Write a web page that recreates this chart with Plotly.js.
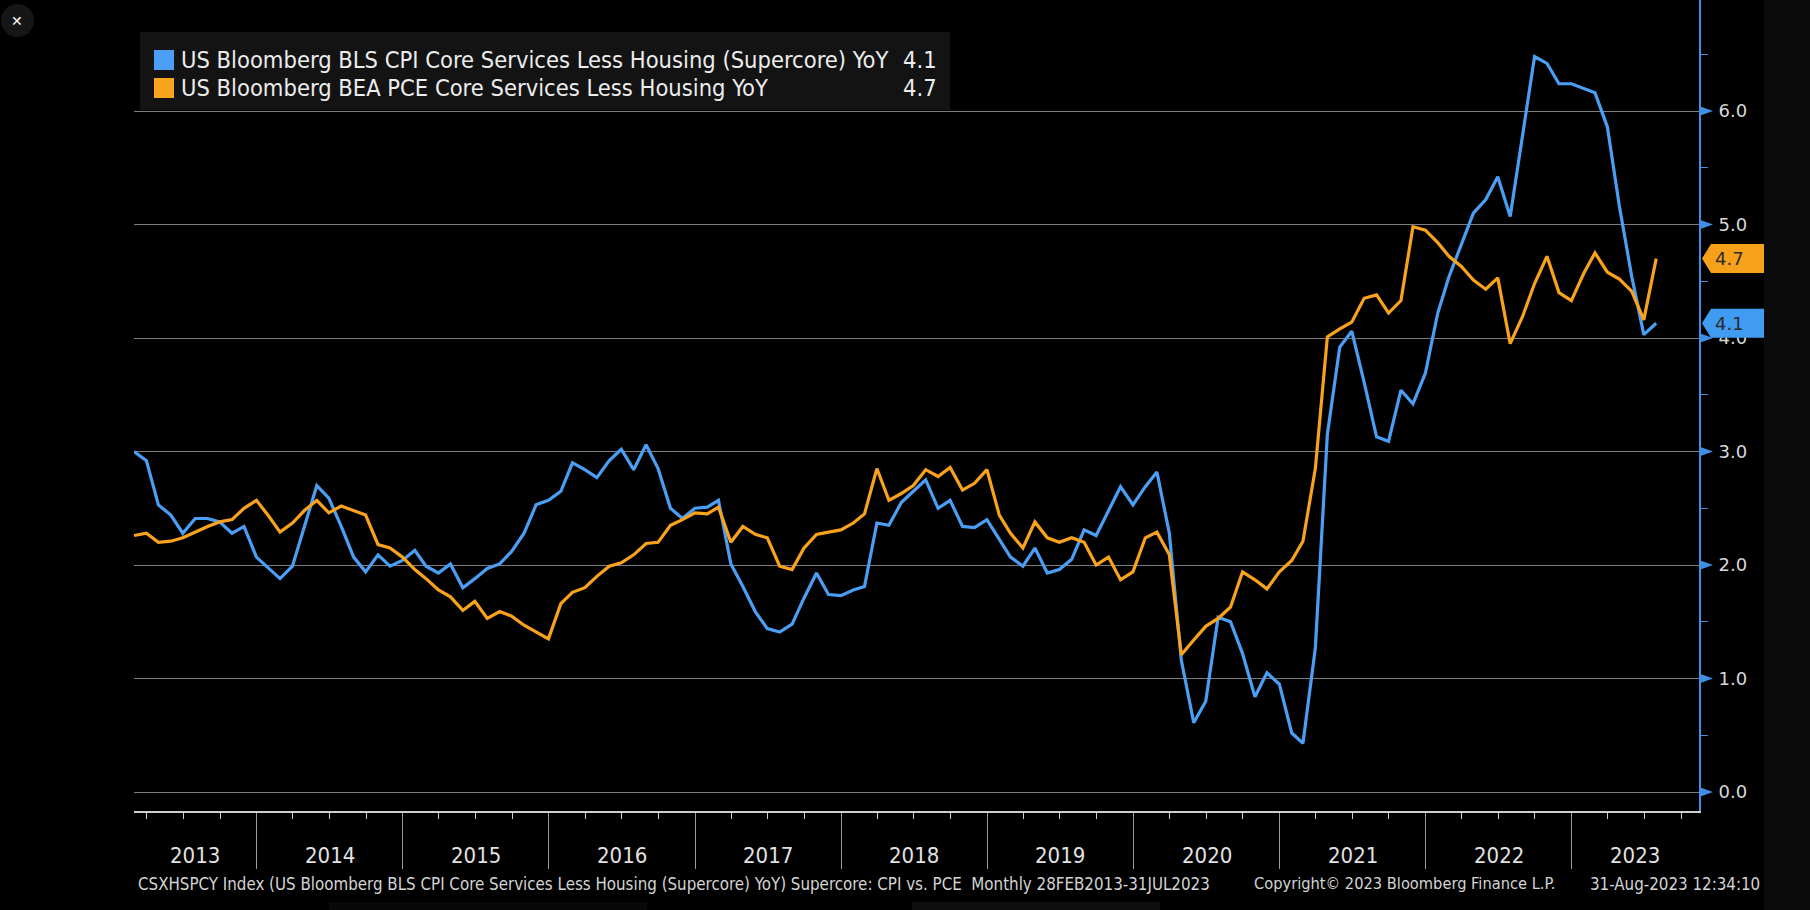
<!DOCTYPE html>
<html><head><meta charset="utf-8">
<script src="https://cdn.plot.ly/plotly-3.0.1.min.js"></script>
<style>html,body{margin:0;padding:0;background:#000;overflow:hidden}</style>
</head><body><div id="chart" style="width:1810px;height:910px"></div>
<script>
// ---------------- DATA ----------------
const firstMonth = [2013, 2]; // Feb 2013, monthly month-end observations
const cpiSupercore = [
 3.00,2.92,2.53,2.44,2.28,2.41,2.41,2.38,2.28,2.34,2.07,
 1.97,1.88,1.99,2.34,2.70,2.59,2.34,2.07,1.94,2.09,1.99,2.04,
 2.13,1.99,1.93,2.01,1.80,1.88,1.97,2.01,2.12,2.28,2.53,2.57,
 2.65,2.90,2.84,2.77,2.92,3.02,2.84,3.06,2.85,2.50,2.41,2.50,
 2.51,2.57,2.01,1.81,1.59,1.44,1.41,1.48,1.71,1.93,1.74,1.73,
 1.78,1.81,2.37,2.35,2.55,2.65,2.75,2.50,2.57,2.34,2.33,2.40,
 2.22,2.07,1.99,2.15,1.93,1.96,2.05,2.31,2.26,2.48,2.69,2.53,
 2.69,2.82,2.28,1.16,0.61,0.80,1.54,1.50,1.22,0.84,1.05,0.95,
 0.52,0.43,1.27,3.15,3.92,4.06,3.61,3.13,3.09,3.54,3.42,3.69,
 4.22,4.54,4.83,5.10,5.22,5.42,5.07,5.77,6.48,6.42,6.24,6.24,
 6.20,6.16,5.86,5.16,4.54,4.03,4.13
];
const pceSupercore = [
 2.26,2.28,2.20,2.21,2.24,2.29,2.34,2.38,2.40,2.50,2.57,
 2.43,2.29,2.37,2.48,2.57,2.46,2.52,2.48,2.44,2.18,2.15,2.07,
 1.96,1.88,1.78,1.72,1.60,1.68,1.53,1.59,1.55,1.47,1.41,1.35,
 1.66,1.76,1.80,1.90,1.99,2.02,2.09,2.19,2.20,2.35,2.40,2.46,
 2.45,2.51,2.20,2.34,2.27,2.24,1.99,1.96,2.15,2.27,2.29,2.31,
 2.37,2.45,2.85,2.57,2.63,2.70,2.84,2.78,2.86,2.66,2.72,2.84,
 2.44,2.28,2.15,2.38,2.24,2.20,2.24,2.20,2.00,2.07,1.87,1.94,
 2.24,2.29,2.09,1.21,1.34,1.46,1.53,1.63,1.94,1.87,1.79,1.94,
 2.04,2.21,2.85,4.01,4.08,4.14,4.35,4.38,4.22,4.33,4.98,4.95,
 4.84,4.72,4.63,4.51,4.43,4.53,3.95,4.19,4.48,4.72,4.40,4.33,
 4.57,4.75,4.58,4.52,4.41,4.16,4.70
];
const cpiName = 'US Bloomberg BLS CPI Core Services Less Housing (Supercore) YoY';
const pceName = 'US Bloomberg BEA PCE Core Services Less Housing YoY';
const yTickVals = [0, 1, 2, 3, 4, 5, 6];
const yearLabels = ['2013','2014','2015','2016','2017','2018','2019','2020','2021','2022','2023'];
const footerLeft = 'CSXHSPCY Index (US Bloomberg BLS CPI Core Services Less Housing (Supercore) YoY) Supercore: CPI vs. PCE  Monthly 28FEB2013-31JUL2023';
const footerMid = 'Copyright\u00a9 2023 Bloomberg Finance L.P.';
const footerRight = '31-Aug-2023 12:34:10';

// ---------------- STYLE / LAYOUT ----------------
const BLUE = '#4a9ff5', ORANGE = '#f9a21b';
const W = 1810, H = 910, L = 134, R = 1699, T = 0, B = 811;
const PW = R - L, PH = B - T;
const px2x = p => (p - L) / PW;
const py2y = p => (B - p) / PH;
const xRange = ['2013-02-28', '2023-11-15'];
const yRange = [-0.167, 6.978];
const dataPerPx = (yRange[1] - yRange[0]) / PH;

function pad(n){return (n<10?'0':'')+n;}
const dates = cpiSupercore.map((_, k) => {
  const m0 = firstMonth[1] - 1 + k;
  const y = firstMonth[0] + Math.floor(m0 / 12);
  const m = m0 % 12;
  const last = new Date(Date.UTC(y, m + 1, 0)).getUTCDate();
  return y + '-' + pad(m + 1) + '-' + pad(last);
});

const traces = [
  {x: dates, y: cpiSupercore, type: 'scatter', mode: 'lines', name: cpiName,
   line: {color: BLUE, width: 3.2}, hoverinfo: 'skip'},
  {x: dates, y: pceSupercore, type: 'scatter', mode: 'lines', name: pceName,
   line: {color: ORANGE, width: 3.2}, hoverinfo: 'skip'}
];

const shapes = [];
const annotations = [];

// right dark border strip
shapes.push({type: 'rect', xref: 'paper', yref: 'paper', x0: px2x(1764), x1: px2x(W), y0: py2y(H), y1: py2y(0),
  fillcolor: '#0b0b0b', line: {width: 0}, layer: 'below'});
// faint bottom UI panels
shapes.push({type: 'rect', xref: 'paper', yref: 'paper', x0: px2x(329), x1: px2x(647), y0: py2y(910), y1: py2y(902),
  fillcolor: '#080808', line: {width: 0}, layer: 'below'});
shapes.push({type: 'rect', xref: 'paper', yref: 'paper', x0: px2x(912), x1: px2x(1160), y0: py2y(910), y1: py2y(902),
  fillcolor: '#0e0e0e', line: {width: 0}, layer: 'below'});

// close button
shapes.push({type: 'circle', xref: 'paper', yref: 'paper', x0: px2x(1), x1: px2x(34), y0: py2y(37), y1: py2y(4),
  fillcolor: '#161616', line: {width: 0}});
annotations.push({xref: 'paper', yref: 'paper', x: px2x(17.5), y: py2y(20.5), text: '\u2715', showarrow: false,
  xanchor: 'center', yanchor: 'middle', font: {family: 'DejaVu Sans', size: 14, color: '#ffffff'}});

// legend box
shapes.push({type: 'rect', xref: 'paper', yref: 'paper', x0: px2x(140), x1: px2x(950), y0: py2y(110), y1: py2y(32),
  fillcolor: '#131313', line: {width: 0}});
const legendRows = [
  {name: cpiName, color: BLUE, val: cpiSupercore[cpiSupercore.length - 1], yc: 60},
  {name: pceName, color: ORANGE, val: pceSupercore[pceSupercore.length - 1], yc: 88}
];
legendRows.forEach(r => {
  shapes.push({type: 'rect', xref: 'paper', yref: 'paper', x0: px2x(154), x1: px2x(174), y0: py2y(r.yc + 10), y1: py2y(r.yc - 10),
    fillcolor: r.color, line: {width: 0}});
  annotations.push({xref: 'paper', yref: 'paper', x: px2x(179), y: py2y(r.yc), text: r.name, showarrow: false,
    xanchor: 'left', yanchor: 'middle', font: {family: 'DejaVu Sans Condensed', size: 23.5, color: '#ececec'}});
  annotations.push({xref: 'paper', yref: 'paper', x: px2x(939), y: py2y(r.yc), text: r.val.toFixed(1), showarrow: false,
    xanchor: 'right', yanchor: 'middle', font: {family: 'DejaVu Sans Condensed', size: 23.5, color: '#ececec'}});
});

// y axis tick triangles
yTickVals.forEach(v => {
  const h = 5 * dataPerPx;
  shapes.push({type: 'path', xref: 'paper', yref: 'y',
    path: `M ${px2x(1699)} ${v - h} L ${px2x(1713)} ${v} L ${px2x(1699)} ${v + h} Z`,
    fillcolor: '#3f8fe6', line: {width: 0}, layer: 'above'});
});

// last-value tags
[{v: pceSupercore[pceSupercore.length - 1], c: '#f7a11a'}, {v: cpiSupercore[cpiSupercore.length - 1], c: '#3f9cf2'}].forEach(t => {
  const h = 14.5 * dataPerPx;
  shapes.push({type: 'path', xref: 'paper', yref: 'y', layer: 'above',
    path: `M ${px2x(1702)} ${t.v} L ${px2x(1711)} ${t.v + h} L ${px2x(1764)} ${t.v + h} L ${px2x(1764)} ${t.v - h} L ${px2x(1711)} ${t.v - h} Z`,
    fillcolor: t.c, line: {width: 0}});
  annotations.push({xref: 'paper', yref: 'y', x: px2x(1729), y: t.v, text: t.v.toFixed(1), showarrow: false,
    xanchor: 'center', yanchor: 'middle', font: {family: 'DejaVu Sans', size: 18, color: '#2b2b2b'}});
});

// year labels centred in the visible part of each year
const xs = Date.parse(xRange[0] + 'T00:00:00Z'), xe = Date.parse(xRange[1] + 'T00:00:00Z');
yearLabels.forEach(lbl => {
  const yy = parseInt(lbl, 10);
  const s = Math.max(Date.UTC(yy, 0, 1), xs), e = Math.min(Date.UTC(yy + 1, 0, 1), xe);
  const mid = new Date((s + e) / 2).toISOString().slice(0, 19).replace('T', ' ');
  annotations.push({xref: 'x', yref: 'paper', x: mid, y: py2y(855), text: lbl, showarrow: false,
    xanchor: 'center', yanchor: 'middle', font: {family: 'DejaVu Sans Condensed', size: 22, color: '#e2e2e2'}});
});

// footer
const footFont = {family: 'DejaVu Sans Condensed', size: 16.8, color: '#d4d4d4'};
const footFontMid = {family: 'DejaVu Sans Condensed', size: 16.3, color: '#d4d4d4'};
annotations.push({xref: 'paper', yref: 'paper', x: px2x(136), y: py2y(884), text: footerLeft, showarrow: false,
  xanchor: 'left', yanchor: 'middle', font: footFont});
annotations.push({xref: 'paper', yref: 'paper', x: px2x(1252), y: py2y(884), text: footerMid, showarrow: false,
  xanchor: 'left', yanchor: 'middle', font: footFontMid});
annotations.push({xref: 'paper', yref: 'paper', x: px2x(1762), y: py2y(884), text: footerRight, showarrow: false,
  xanchor: 'right', yanchor: 'middle', font: footFont});

const layout = {
  width: W, height: H,
  margin: {l: L, r: W - R, t: T, b: H - B, pad: 0},
  paper_bgcolor: '#000000', plot_bgcolor: '#000000',
  showlegend: false,
  xaxis: {
    type: 'date', range: xRange, showgrid: false, zeroline: false,
    showline: true, linecolor: '#cfcfcf', linewidth: 2,
    tickmode: 'linear', tick0: '2014-01-01', dtick: 'M12',
    ticks: 'outside', ticklen: 56, tickcolor: '#9a9a9a', tickwidth: 1,
    showticklabels: false,
    minor: {tickmode: 'linear', tick0: '2013-01-01', dtick: 'M3', ticks: 'outside', ticklen: 6,
            tickcolor: '#cfcfcf', tickwidth: 1, showgrid: false}
  },
  yaxis: {
    side: 'right', range: yRange, zeroline: false,
    tickmode: 'array', tickvals: yTickVals, tickformat: '.1f',
    showgrid: true, gridcolor: '#7d7d7d', gridwidth: 1,
    showline: true, linecolor: '#3f8fe6', linewidth: 2,
    ticks: 'outside', ticklen: 14, tickcolor: 'rgba(0,0,0,0)',
    tickfont: {family: 'DejaVu Sans', size: 18, color: '#d8d8d8'},
    minor: {tickmode: 'linear', tick0: 0.5, dtick: 1, ticks: 'outside', ticklen: 7,
            tickcolor: '#4a8fd8', tickwidth: 1, showgrid: false}
  },
  shapes: shapes,
  annotations: annotations
};

Plotly.newPlot('chart', traces, layout, {staticPlot: true, displayModeBar: false});
</script>
</body></html>
